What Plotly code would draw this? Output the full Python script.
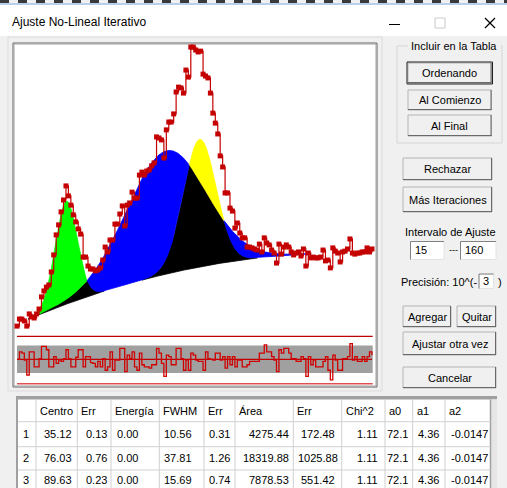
import numpy as np
import plotly.graph_objects as go

# ---------------- data ----------------
channels = list(range(15, 161))
counts = [126, 152, 152, 145, 126, 171, 160, 156, 171, 189,
          234, 256, 270, 278, 326, 389, 463, 500, 548, 592,
          644, 607, 573, 537, 511, 485, 466, 381, 381, 348,
          337, 337, 330, 333, 341, 370, 418, 400, 444, 444,
          503, 503, 540, 570, 496, 573, 581, 621, 599, 599,
          684, 695, 684, 699, 703, 718, 729, 825, 821, 814,
          747, 851, 880, 880, 910, 991, 1009, 1006, 987, 1072,
          1046, 1157, 1157, 1146, 1139, 1142, 1057, 1050, 1043, 987,
          913, 876, 836, 755, 714, 618, 618, 562, 551, 488,
          507, 470, 452, 452, 418, 418, 415, 411, 407, 429,
          400, 452, 433, 426, 407, 396, 359, 429, 392, 418,
          426, 418, 400, 389, 396, 400, 385, 411, 348, 396,
          378, 381, 378, 378, 381, 407, 367, 370, 341, 415,
          403, 396, 363, 400, 403, 411, 448, 396, 392, 396,
          396, 400, 400, 415, 400, 411]
residuals = [0.0, 1.1, 0.9, -0.1, -2.3, 1.1, 1.1, -1.1, -1.1, 0.1,
             1.9, 1.9, 1.4, -1.1, -1.1, 0.4, -0.6, -0.1, -0.3, 0.1,
             1.4, 0.1, -1.1, -1.1, 0.3, 1.4, 1.4, -1.1, 0.4, 0.4,
             -0.5, -0.6, -1.1, -0.3, -1.1, 0.1, -1.6, -1.1, 1.1, -1.6,
             -0.1, -0.1, 1.6, 1.6, -1.8, 0.6, 0.1, 1.1, -1.1, -1.6,
             0.9, -0.8, -1.1, -1.1, -1.3, -0.8, -0.8, 1.6, 0.9, -0.6,
             -2.5, 0.6, 0.4, -0.8, -0.8, 1.6, 1.6, 0.1, -1.6, -0.1,
             -1.6, 0.9, 0.6, -0.1, -0.3, -0.3, -1.6, 1.1, 0.1, 0.0,
             -0.1, 0.9, 0.9, -0.1, 0.4, -1.3, 0.4, -0.8, 0.4, -1.1,
             -0.1, -0.1, -1.1, -1.1, -0.8, -0.3, -0.3, -0.3, -0.3, 0.9,
             0.9, 2.1, 1.1, 1.1, 0.4, -0.1, -1.8, 1.4, 0.9, 1.6,
             1.6, 0.9, 0.1, 0.1, -0.3, -0.3, 0.4, 0.1, -2.5, 0.4,
             -0.8, -0.1, -1.1, -1.1, -1.1, -0.3, 0.4, -1.6, -3.0, 0.6,
             -0.1, -1.6, -1.6, 0.1, 0.1, 0.4, 2.3, -0.1, 0.4, -0.3,
             -0.3, 0.4, -0.3, 0.4, 1.1, 0.6]

# fit results table
peak_no = ["1", "2", "3"]
centro = [35.12, 76.03, 89.63]
err_centro = [0.13, 0.76, 0.23]
energia = [0.00, 0.00, 0.00]
fwhm = [10.56, 37.81, 15.69]
err_fwhm = [0.31, 1.26, 0.74]
area = [4275.44, 18319.88, 7878.53]
err_area = [172.48, 1025.88, 551.42]
chi2 = [1.11, 1.11, 1.11]
a0 = [72.1, 72.1, 72.1]
a1 = [4.36, 4.36, 4.36]
a2 = [-0.0147, -0.0147, -0.0147]
headers = ["", "Centro", "Err", "Energía", "FWHM", "Err", "Área", "Err", "Chi^2", "a0", "a1", "a2"]
interval = ["15", "160"]
precision = "3"

W, H = 507, 488
FONT = "Liberation Sans"
UI = 11
shapes, annos = [], []


def X(px):
    return px / W


def Y(py):
    return 1 - py / H


def rect(x0, y0, x1, y1, fill=None, line=None, lw=1, layer="below"):
    shapes.append(dict(type="rect", xref="paper", yref="paper", x0=X(x0), x1=X(x1),
                       y0=Y(y1), y1=Y(y0), fillcolor=fill or "rgba(0,0,0,0)",
                       line=dict(color=line or "rgba(0,0,0,0)", width=lw if line else 0), layer=layer))


def hline(x0, x1, y, color, lw=1, dash="solid", layer="below"):
    shapes.append(dict(type="line", xref="paper", yref="paper", x0=X(x0), x1=X(x1), y0=Y(y), y1=Y(y),
                       line=dict(color=color, width=lw, dash=dash), layer=layer))


def vline(x, y0, y1, color, lw=1, layer="below"):
    shapes.append(dict(type="line", xref="paper", yref="paper", x0=X(x), x1=X(x), y0=Y(y0), y1=Y(y1),
                       line=dict(color=color, width=lw), layer=layer))


def text(x, y, s, size=12, anchor="center", color="#000000", bg=None):
    d = dict(x=X(x), y=Y(y), xref="paper", yref="paper", text=s, showarrow=False,
             xanchor=anchor, yanchor="middle", borderpad=0,
             font=dict(family=FONT, size=size, color=color))
    if bg:
        d["bgcolor"] = bg
    annos.append(d)


def button(x0, y0, x1, y1, label, default=False):
    rect(x0, y0, x1, y1, fill="#f0f0f0", line="#b4b4b4")
    hline(x0, x1, y1 - 0.5, "#696969")
    vline(x1 - 0.5, y0, y1, "#696969")
    if default:
        rect(x0 - 1, y0 - 1, x1 + 1, y1 + 1, line="#1e1e1e")
    text((x0 + x1) / 2, (y0 + y1) / 2, label, size=UI)


def edit(x0, y0, x1, y1, s):
    rect(x0, y0, x1, y1, fill="#ffffff", line="#e3e3e3")
    hline(x0, x1, y0, "#828282")
    vline(x0, y0, y1, "#828282")
    text(x0 + 3, (y0 + y1) / 2, s, size=UI, anchor="left")


# ---------------- window chrome ----------------
hline(0, W, 1.5, "#3a3a3a", lw=3, dash="dash")
rect(0, 3, W, 36, fill="#ffffff")
hline(0, W, 4, "#6f9fd8", lw=1)
text(11, 22, "Ajuste No-Lineal Iterativo", size=12, anchor="left")
hline(389, 400, 24.5, "#000000", lw=1)
rect(435, 18, 445, 28, line="#c8c8c8")
shapes.append(dict(type="line", xref="paper", yref="paper", x0=X(485), x1=X(495), y0=Y(18), y1=Y(28),
                   line=dict(color="#000000", width=1.2)))
shapes.append(dict(type="line", xref="paper", yref="paper", x0=X(485), x1=X(495), y0=Y(28), y1=Y(18),
                   line=dict(color="#000000", width=1.2)))

# chart frame
rect(8, 37, 382, 391, line="#dcdcdc")
rect(13, 43, 377, 387, fill="#ffffff", line="#646464")
rect(14, 44, 376, 386, line="#a0a0a0")

# residual band decorations
rect(17, 345.6, 372.7, 373, fill="#a0a0a0")
hline(17, 372.7, 336.3, "#c00000", lw=1.2)
hline(17, 372.7, 383.7, "#e05050", lw=1.6)

# ---------------- right panel ----------------
rect(397, 46, 502, 143, line="#d5d5d5")
text(453.5, 45.5, " Incluir en la Tabla ", size=UI, bg="#f0f0f0")
button(408, 63, 491.5, 83, "Ordenando", default=True)
button(408, 90, 491.5, 110, "Al Comienzo")
button(408, 115, 491.5, 136, "Al Final")
button(403, 158, 492, 180, "Rechazar")
button(403, 187, 492, 212, "Más Iteraciones")
text(450, 231.5, "Intervalo de Ajuste", size=UI)
edit(410.5, 241.5, 444, 259.5, interval[0])
text(453, 250, "---", size=9)
edit(460.5, 241.5, 496, 259.5, interval[1])
text(477.5, 281.5, "Precisión: 10^(-", size=UI, anchor="right")
edit(479, 274, 493.5, 288.5, precision)
text(499.5, 281.5, ")", size=UI)
button(403, 306, 451, 327, "Agregar")
button(457, 306, 496, 327, "Quitar")
button(403, 332, 496, 355, "Ajustar otra vez")
button(403, 367, 496, 388, "Cancelar")

# ---------------- table ----------------
rect(16, 396, 497, H + 2, fill="#ffffff")
rect(16, 396, 497, 399.5, fill="#a0a0a0")
rect(16, 396, 18, H + 2, fill="#a0a0a0")
rect(490.5, 399.5, 497, H + 2, fill="#e6e6e6")
vline(490.5, 399.5, H, "#a0a0a0", lw=1.5)
col_edges = [18, 36, 77.3, 111, 159.3, 204, 235, 293.3, 341.7, 385, 412.7, 445, 490.5]
row_edges = [399.5, 421.7, 446.7, 470, H + 2]
for yy in row_edges[1:-1]:
    hline(18, 490.5, yy, "#d0d0d0")
for xx in col_edges[1:-1]:
    vline(xx, 399.5, H, "#d0d0d0")

TS = 11
for i, h in enumerate(headers):
    if h:
        text(col_edges[i] + 3, 410.7, h, size=TS, anchor="left")

row_y = [434.3, 457.7, 480]
for r in range(3):
    y = row_y[r]
    text(26, y, peak_no[r], size=TS)
    text(73, y, f"{centro[r]:.2f}", size=TS, anchor="right")
    text(107.5, y, f"{err_centro[r]:.2f}", size=TS, anchor="right")
    text(116, y, f"{energia[r]:.2f}", size=TS, anchor="left")
    text(163, y, f"{fwhm[r]:.2f}", size=TS, anchor="left")
    text(231, y, f"{err_fwhm[r]:.2f}", size=TS, anchor="right")
    text(289.5, y, f"{area[r]:.2f}", size=TS, anchor="right")
    text(317.5, y, f"{err_area[r]:.2f}", size=TS)
    text(378.5, y, f"{chi2[r]:.2f}", size=TS, anchor="right")
    text(408.5, y, f"{a0[r]:.1f}", size=TS, anchor="right")
    text(440, y, f"{a1[r]:.2f}", size=TS, anchor="right")
    text(488.5, y, f"{a2[r]:.4f}", size=TS, anchor="right")

# ---------------- fit model (from the table parameters) ----------------
xs = np.arange(channels[0], channels[-1] + 0.001, 0.05)
bg = a0[0] + a1[0] * xs + a2[0] * xs ** 2
peaks = []
for c, w, a in zip(centro, fwhm, area):
    s = w / (2 * np.sqrt(2 * np.log(2)))
    peaks.append(a / (s * np.sqrt(2 * np.pi)) * np.exp(-0.5 * ((xs - c) / s) ** 2))
P = np.vstack(peaks)
srt = np.sort(P, axis=0)
top, second = srt[-1], srt[-2]
arg = P.argmax(axis=0)
THR = 0.9


def runs(mask):
    out, start = [], None
    for i, m in enumerate(mask):
        if m and start is None:
            start = i
        if not m and start is not None:
            out.append((start, i - 1))
            start = None
    if start is not None:
        out.append((start, len(mask) - 1))
    return out


def polygon(lo, hi, mask):
    px, py = [], []
    for i0, i1 in runs(mask):
        seg = slice(i0, i1 + 1)
        px += list(xs[seg]) + list(xs[seg][::-1]) + [xs[i0], None]
        py += list(hi[seg]) + list(lo[seg][::-1]) + [hi[i0], None]
    return px, py


fig = go.Figure()
bx, by = polygon(bg, bg + second, second > THR)
fig.add_trace(go.Scatter(x=bx, y=by, mode="lines", fill="toself", fillcolor="#000000",
                         line=dict(color="#000000", width=0.8), hoverinfo="skip", xaxis="x", yaxis="y"))
for k, col in enumerate(["#00ff00", "#0000ff", "#ffff00"]):
    m = (arg == k) & (top - second > THR * 0.6)
    px_, py_ = polygon(bg + second, bg + top, m)
    fig.add_trace(go.Scatter(x=px_, y=py_, mode="lines", fill="toself", fillcolor=col,
                             line=dict(color=col, width=0.8), hoverinfo="skip", xaxis="x", yaxis="y"))

# measured spectrum
fig.add_trace(go.Scatter(x=channels, y=counts, mode="lines+markers", line_shape="hv",
                         line=dict(color="#c40000", width=1.2),
                         marker=dict(symbol="square", size=5, color="#c40000", line=dict(width=0)),
                         xaxis="x", yaxis="y"))
# residuals
fig.add_trace(go.Scatter(x=[channels[0], channels[-1]], y=[0, 0], mode="lines",
                         line=dict(color="#c00000", width=1.2), xaxis="x2", yaxis="y2"))
fig.add_trace(go.Scatter(x=channels, y=residuals, mode="lines", line_shape="hv",
                         line=dict(color="#d00000", width=1.3), xaxis="x2", yaxis="y2"))

# axes: pixel calibrated
xr = [15 + (14 - 17) / 2.448, 15 + (376 - 17) / 2.448]
dom_x = [X(14), X(376)]
dom_y = [Y(387), Y(43)]
yr = [(360.2 - 387) * 3.695, (360.2 - 43) * 3.695]
rr = [(359.3 - 387) / 6.833, (359.3 - 43) / 6.833]
ax = dict(visible=False, showgrid=False, zeroline=False, fixedrange=True)
fig.update_layout(
    width=W, height=H, margin=dict(l=0, r=0, t=0, b=0), autosize=False,
    paper_bgcolor="#f0f0f0", plot_bgcolor="rgba(0,0,0,0)", showlegend=False,
    xaxis=dict(ax, domain=dom_x, range=xr, anchor="y"),
    yaxis=dict(ax, domain=dom_y, range=yr, anchor="x"),
    xaxis2=dict(ax, domain=dom_x, range=xr, anchor="y2"),
    yaxis2=dict(ax, domain=dom_y, range=rr, anchor="x2"),
    shapes=shapes, annotations=annos, hovermode=False,
)
fig.write_html("out.html", config={"displayModeBar": False, "staticPlot": True})
